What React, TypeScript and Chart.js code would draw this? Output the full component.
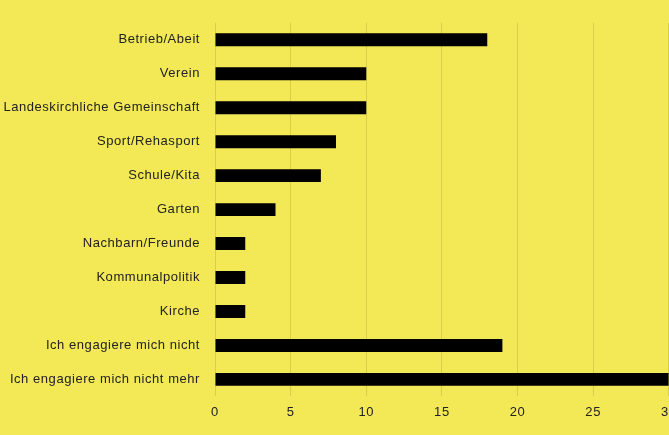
import React, { useEffect, useRef } from "react";
import { Chart, registerables } from "chart.js";

Chart.register(...registerables);

const categories = [
  "Betrieb/Abeit",
  "Verein",
  "Landeskirchliche Gemeinschaft",
  "Sport/Rehasport",
  "Schule/Kita",
  "Garten",
  "Nachbarn/Freunde",
  "Kommunalpolitik",
  "Kirche",
  "Ich engagiere mich nicht",
  "Ich engagiere mich nicht mehr",
];
const values = [18, 10, 10, 8, 7, 4, 2, 2, 2, 19, 30];
const xTicks = [0, 5, 10, 15, 20, 25, 30];

const BG = "#F3E856";
const FONT = "'Liberation Sans', Arial, sans-serif";

const spacingPlugin = {
  id: "spacing",
  beforeDraw: (chart: any) => {
    (chart.ctx as any).letterSpacing = "0.55px";
  },
};

export default function App() {
  const ref = useRef<HTMLCanvasElement | null>(null);
  useEffect(() => {
    if (!ref.current) return;
    const chart = new Chart(ref.current, {
      type: "bar",
      data: {
        labels: categories,
        datasets: [
          {
            data: values,
            backgroundColor: "#000000",
            borderWidth: 0,
            barPercentage: 0.76,
            categoryPercentage: 0.5,
          },
        ],
      },
      options: {
        indexAxis: "y",
        responsive: false,
        animation: false,
        devicePixelRatio: 1,
        layout: { padding: { top: 18, bottom: 7, left: 0, right: 0 } },
        plugins: { legend: { display: false }, tooltip: { enabled: false } },
        scales: {
          x: {
            min: 0,
            max: 30,
            afterBuildTicks: (axis: any) => {
              axis.ticks = xTicks.map((v) => ({ value: v }));
            },
            grid: { color: "rgba(0,0,0,0.11)", drawTicks: false, lineWidth: 1 },
            border: { display: false },
            ticks: { color: "#222", font: { family: FONT, size: 13 }, padding: 8, maxRotation: 0 },
          },
          y: {
            afterFit: (axis: any) => {
              axis.width = 215;
            },
            grid: { display: false, drawTicks: false },
            border: { display: false },
            ticks: { color: "#222", font: { family: FONT, size: 13 }, padding: 15 },
          },
        },
      },
      plugins: [spacingPlugin],
    });
    return () => chart.destroy();
  }, []);
  return (
    <div
      style={{
        position: "absolute",
        left: 0,
        top: 0,
        width: 669,
        height: 435,
        overflow: "hidden",
        background: BG,
      }}
    >
      <canvas ref={ref} width={684} height={435} style={{ display: "block" }} />
    </div>
  );
}
